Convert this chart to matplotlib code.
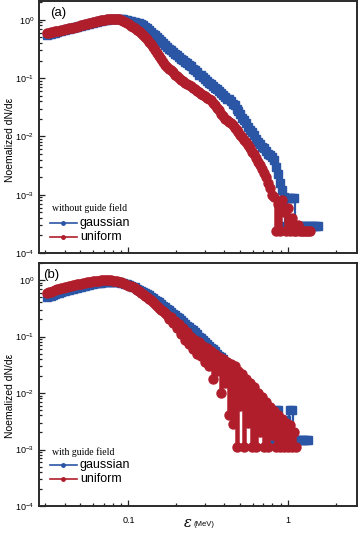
import numpy as np
import matplotlib
matplotlib.use("Agg")
import matplotlib.pyplot as plt
from matplotlib.ticker import LogLocator, FixedLocator, FixedFormatter, NullFormatter
from matplotlib.lines import Line2D

plt.rcParams['font.family'] = ['Liberation Sans', 'DejaVu Sans']
plt.rcParams['mathtext.fontset'] = 'custom'
plt.rcParams['mathtext.rm'] = 'Liberation Sans'
plt.rcParams['mathtext.it'] = 'Liberation Sans:italic'

nan = float('nan')

# ---- data: energy bins (MeV) and normalized dN/de ----
energy = [0.03090, 0.03181, 0.03273, 0.03369, 0.03467, 0.03569, 0.03673, 0.03780, 0.03890, 0.04004,
          0.04121, 0.04241, 0.04365, 0.04492, 0.04624, 0.04759, 0.04898, 0.05041, 0.05188, 0.05340,
          0.05495, 0.05656, 0.05821, 0.05991, 0.06166, 0.06346, 0.06531, 0.06722, 0.06918, 0.07120,
          0.07328, 0.07542, 0.07762, 0.07989, 0.08222, 0.08462, 0.08710, 0.08964, 0.09226, 0.09495,
          0.09772, 0.1006, 0.1035, 0.1065, 0.1096, 0.1128, 0.1161, 0.1195, 0.1230, 0.1266,
          0.1303, 0.1341, 0.1380, 0.1421, 0.1462, 0.1505, 0.1549, 0.1594, 0.1641, 0.1689,
          0.1738, 0.1789, 0.1841, 0.1895, 0.1950, 0.2007, 0.2065, 0.2126, 0.2188, 0.2252,
          0.2317, 0.2385, 0.2455, 0.2526, 0.2600, 0.2676, 0.2754, 0.2835, 0.2917, 0.3003,
          0.3090, 0.3181, 0.3273, 0.3369, 0.3467, 0.3569, 0.3673, 0.3780, 0.3890, 0.4004,
          0.4121, 0.4241, 0.4365, 0.4492, 0.4624, 0.4759, 0.4898, 0.5041, 0.5188, 0.5340,
          0.5495, 0.5656, 0.5821, 0.5991, 0.6166, 0.6346, 0.6531, 0.6722, 0.6918, 0.7120,
          0.7328, 0.7542, 0.7762, 0.7989, 0.8222, 0.8462, 0.8710, 0.8964, 0.9226, 0.9495,
          0.9772, 1.006, 1.035, 1.065, 1.096, 1.128, 1.161, 1.195, 1.230, 1.266,
          1.303, 1.341, 1.380, 1.421, 1.462, 1.505, 1.549, 1.594, 1.641]

# panel (a): without guide field
a_gauss = [0.55, 0.56, 0.57, 0.585, 0.60, 0.615, 0.63, 0.645, 0.66, 0.675,
           0.69, 0.70, 0.71, 0.725, 0.74, 0.755, 0.77, 0.785, 0.80, 0.82,
           0.84, 0.855, 0.87, 0.89, 0.91, 0.93, 0.95, 0.965, 0.98, 0.995,
           1.01, 1.02, 1.03, 1.04, 1.05, 1.05, 1.05, 1.04, 1.02, 1.005,
           0.99, 0.97, 0.95, 0.93, 0.91, 0.89, 0.87, 0.84, 0.80, 0.76,
           0.71, 0.67, 0.62, 0.58, 0.54, 0.50, 0.47, 0.43, 0.40, 0.37,
           0.34, 0.32, 0.30, 0.28, 0.26, 0.245, 0.23, 0.215, 0.205, 0.19,
           0.18, 0.17, 0.16, 0.145, 0.135, 0.125, 0.115, 0.112, 0.105, 0.097,
           0.090, 0.084, 0.078, 0.073, 0.068, 0.064, 0.060, 0.055, 0.052, 0.047,
           0.044, 0.043, 0.040, 0.036, 0.034, 0.030, 0.027, 0.024, 0.021, 0.019,
           0.0167, 0.0145, 0.013, 0.012, 0.0105, 0.0092, 0.0080, 0.0074, 0.0066, 0.0062,
           0.0057, 0.0050, 0.0048, 0.0044, 0.0040, 0.0030, 0.0023, 0.0016, 0.0012, 0.0009,
           0.00029, 0.00089, 0.00089, 0.00089, 0.00089, 0.00029, 0.00029, 0.00029, 0.00029, 0.00029,
           0.00029, 0.00029, 0.00029, 0.00029, 0.00029, 0.00029, 0.00029, nan, nan]
a_unif = [0.60, 0.605, 0.61, 0.62, 0.63, 0.64, 0.65, 0.665, 0.68, 0.69,
          0.70, 0.71, 0.72, 0.735, 0.75, 0.765, 0.78, 0.80, 0.82, 0.835,
          0.85, 0.865, 0.88, 0.90, 0.92, 0.94, 0.96, 0.975, 0.99, 1.005,
          1.02, 1.03, 1.04, 1.045, 1.04, 1.03, 1.02, 0.99, 0.95, 0.92,
          0.88, 0.84, 0.79, 0.75, 0.71, 0.67, 0.63, 0.59, 0.55, 0.50,
          0.46, 0.42, 0.38, 0.34, 0.30, 0.27, 0.24, 0.215, 0.19, 0.17,
          0.155, 0.145, 0.135, 0.125, 0.115, 0.107, 0.100, 0.094, 0.088, 0.084,
          0.080, 0.076, 0.072, 0.068, 0.065, 0.061, 0.058, 0.054, 0.051, 0.049,
          0.046, 0.044, 0.042, 0.038, 0.035, 0.031, 0.028, 0.024, 0.022, 0.020,
          0.019, 0.018, 0.017, 0.0155, 0.014, 0.013, 0.012, 0.0105, 0.0096, 0.0088,
          0.0080, 0.0070, 0.0062, 0.0055, 0.0050, 0.0042, 0.0037, 0.0032, 0.0028, 0.0024,
          0.0020, 0.0016, 0.0013, 0.0010, 0.0009, 0.00024, 0.0007, 0.00024, 0.0008, 0.0005,
          0.00024, 0.0006, 0.00024, 0.0004, 0.00024, 0.00024, 0.0003, 0.00024, 0.00024, 0.00024,
          0.00024, 0.00024, 0.00024, nan, nan, nan, nan, nan, nan]

# panel (b): with guide field
b_gauss = [0.50, 0.515, 0.53, 0.545, 0.56, 0.58, 0.60, 0.615, 0.63, 0.645,
           0.66, 0.675, 0.69, 0.705, 0.72, 0.735, 0.75, 0.765, 0.78, 0.795,
           0.81, 0.825, 0.84, 0.855, 0.87, 0.88, 0.89, 0.90, 0.91, 0.92,
           0.93, 0.93, 0.93, 0.93, 0.93, 0.92, 0.91, 0.895, 0.88, 0.86,
           0.84, 0.815, 0.79, 0.765, 0.74, 0.70, 0.67, 0.645, 0.62, 0.595,
           0.57, 0.54, 0.51, 0.48, 0.45, 0.425, 0.40, 0.375, 0.35, 0.33,
           0.31, 0.29, 0.27, 0.255, 0.24, 0.225, 0.21, 0.195, 0.18, 0.165,
           0.155, 0.145, 0.135, 0.128, 0.12, 0.11, 0.10, 0.093, 0.085, 0.080,
           0.073, 0.068, 0.062, 0.060, 0.055, 0.050, 0.046, 0.043, 0.040, 0.036,
           0.033, 0.031, 0.029, 0.027, 0.025, 0.022, 0.020, 0.018, 0.016, 0.014,
           0.0128, 0.0120, 0.011, 0.0098, 0.0090, 0.0082, 0.0075, 0.0068, 0.0062, 0.0060,
           0.0056, 0.0050, 0.0046, 0.0015, 0.0015, 0.0050, 0.0050, 0.0015, 0.0015, 0.0033,
           0.0033, 0.0015, 0.0050, 0.0050, 0.0015, 0.0015, 0.0015, 0.0015, 0.0015, 0.0015,
           0.0015, 0.0015, nan, nan, nan, nan, nan, nan, nan]
b_unif = [0.59, 0.605, 0.62, 0.64, 0.66, 0.68, 0.70, 0.715, 0.73, 0.745,
          0.76, 0.775, 0.79, 0.805, 0.82, 0.835, 0.85, 0.865, 0.88, 0.895,
          0.91, 0.925, 0.94, 0.95, 0.96, 0.97, 0.98, 0.985, 0.99, 0.995,
          1.00, 0.995, 0.99, 0.98, 0.97, 0.95, 0.93, 0.905, 0.88, 0.85,
          0.82, 0.795, 0.77, 0.74, 0.71, 0.67, 0.63, 0.595, 0.56, 0.53,
          0.50, 0.47, 0.44, 0.41, 0.38, 0.35, 0.32, 0.30, 0.28, 0.26,
          0.24, 0.20, 0.22, 0.17, 0.19, 0.14, 0.165, 0.11, 0.14, 0.085,
          0.12, 0.075, 0.10, 0.060, 0.085, 0.050, 0.080, 0.045, 0.068, 0.035,
          0.062, 0.030, 0.056, 0.018, 0.050, 0.025, 0.044, 0.010, 0.040, 0.015,
          0.036, 0.004, 0.032, 0.0028, 0.030, 0.0011, 0.025, 0.006, 0.022, 0.0011,
          0.018, 0.003, 0.015, 0.0011, 0.013, 0.0011, 0.010, 0.002, 0.0085, 0.0011,
          0.0070, 0.0011, 0.0056, 0.0018, 0.0048, 0.0011, 0.0040, 0.0011, 0.0035, 0.0011,
          0.0030, 0.0011, 0.0027, 0.0011, 0.0020, 0.0011, nan, nan, nan, nan,
          nan, nan, nan, nan, nan, nan, nan, nan, nan]

panel_labels = ["(a)", "(b)"]
legend_titles = ["without guide field", "with guide field"]
series_names = ["gaussian", "uniform"]

BLUE = '#2b56a6'
RED = '#b01e2c'

fig = plt.figure(figsize=(3.6, 5.33), dpi=100)
W, H = 360, 533

def ax_rect(x0, y0, x1, y1):
    return [x0 / W, 1 - y1 / H, (x1 - x0) / W, (y1 - y0) / H]

axA = fig.add_axes(ax_rect(38.5, 1, 357, 253))
axB = fig.add_axes(ax_rect(38.5, 263, 357, 506))

panels = [(axA, a_gauss, a_unif, 2.1), (axB, b_gauss, b_unif, 2.0)]
for i, (ax, g, u, ytop) in enumerate(panels):
    ax.plot(energy, g, color=BLUE, lw=1.6, marker='s', ms=5.6, mec=BLUE, mfc=BLUE,
            drawstyle='steps-mid', zorder=2)
    ax.plot(energy, u, color=RED, lw=1.8, marker='o', ms=6.5, mec=RED, mfc=RED,
            drawstyle='steps-mid', zorder=3)
    ax.set_xscale('log')
    ax.set_yscale('log')
    ax.set_xlim(0.0273, 2.71)
    ax.set_ylim(1e-4, ytop)
    for sp in ax.spines.values():
        sp.set_linewidth(1.4)
        sp.set_color('#2a2a2a')
    ax.tick_params(which='both', direction='in', top=False, right=False,
                   labelsize=6.5, width=0.9, color='#222222')
    ax.tick_params(which='major', length=4, pad=3)
    ax.tick_params(which='minor', length=2.5)
    ax.yaxis.set_major_locator(LogLocator(base=10, numticks=10))
    ax.yaxis.set_minor_locator(LogLocator(base=10, subs=np.arange(2, 10), numticks=10))
    ax.yaxis.set_minor_formatter(NullFormatter())
    ax.xaxis.set_major_locator(FixedLocator([0.1, 1]))
    ax.xaxis.set_minor_formatter(NullFormatter())
    if i == 1:
        ax.xaxis.set_major_formatter(FixedFormatter(['0.1', '1']))
        ax.tick_params(axis='x', pad=7)
    else:
        ax.xaxis.set_major_formatter(NullFormatter())
    ax.text(0.035 if i == 0 else 0.015, 0.975, panel_labels[i], transform=ax.transAxes,
            fontsize=9.5, va='top', ha='left')

# legends (drawn manually)
leg_pos = [(208, 223, 237), (452, 465, 479)]
for (yt, yg, yu), title in zip(leg_pos, legend_titles):
    fig.text(52 / W, 1 - yt / H, title, family='Liberation Serif', fontsize=7,
             va='center', ha='left')
    for yy, col, name in [(yg, BLUE, series_names[0]), (yu, RED, series_names[1])]:
        fig.add_artist(Line2D([50 / W, 77 / W], [1 - yy / H, 1 - yy / H], color=col,
                              lw=1.2, transform=fig.transFigure))
        fig.add_artist(Line2D([63 / W], [1 - yy / H], color=col, marker='o', ms=2.5,
                              transform=fig.transFigure))
        fig.text(80 / W, 1 - yy / H, name, fontsize=9, va='center', ha='left')

# axis labels
for yc in (140, 396):
    fig.text(10 / W, 1 - yc / H, 'Noemalized dN/d\u03b5', rotation=90, fontsize=7.5,
             va='center', ha='center')
fig.text(192 / W, 1 - 523 / H, '\u03b5', family='DejaVu Serif', style='italic',
         fontsize=10.5, va='center', ha='right')
fig.text(194 / W, 1 - 524 / H, '(MeV)', fontsize=5.5, va='center', ha='left')

fig.savefig('out.png', dpi=100)
